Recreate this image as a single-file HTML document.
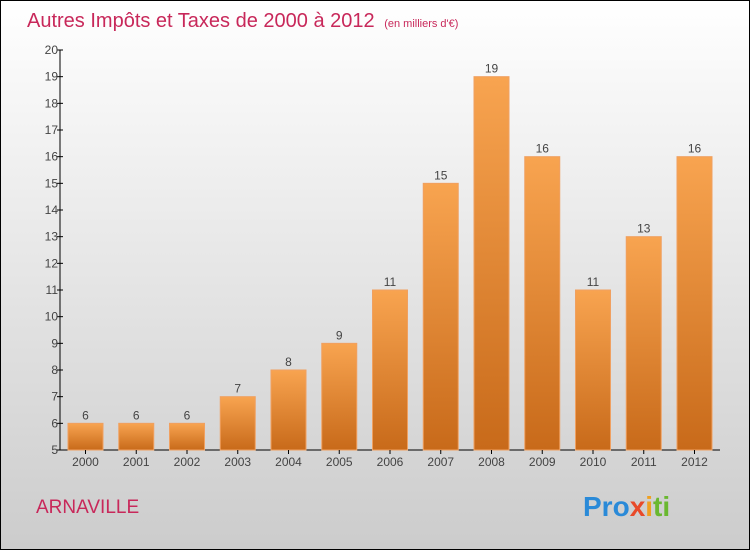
<!DOCTYPE html>
<html><head><meta charset="utf-8"><style>
body{margin:0;width:750px;height:550px;overflow:hidden;font-family:"Liberation Sans",sans-serif}
</style></head><body>
<svg width="750" height="550" xmlns="http://www.w3.org/2000/svg">
<defs>
<linearGradient id="bg" x1="0" y1="0" x2="0" y2="1"><stop offset="0" stop-color="#ffffff"/><stop offset="1" stop-color="#cccccc"/></linearGradient>
<linearGradient id="bar" x1="0" y1="0" x2="0" y2="1"><stop offset="0" stop-color="#f8a450"/><stop offset="1" stop-color="#c86a1a"/></linearGradient>
</defs>
<rect x="0.5" y="0.5" width="749" height="549" fill="url(#bg)" stroke="#000"/>
<text x="27" y="27" font-size="20" fill="#c8285a" font-weight="300">Autres Impôts et Taxes de 2000 à 2012 <tspan font-size="11" dx="4">(en milliers d'€)</tspan></text>
<g id="plot"></g>
<text x="36" y="513" font-size="19" fill="#c8285a">ARNAVILLE</text>
<text x="583" y="516" font-size="28" font-weight="bold"><tspan fill="#2a8ad8">Pro</tspan><tspan fill="#e84a2a">x</tspan><tspan fill="#f0a020">i</tspan><tspan fill="#6ab830">ti</tspan></text>
</svg>
<script>
const categories=["2000","2001","2002","2003","2004","2005","2006","2007","2008","2009","2010","2011","2012"];
const values=[6,6,6,7,8,9,11,15,19,16,11,13,16];
const yTicks=[5,6,7,8,9,10,11,12,13,14,15,16,17,18,19,20];
const NS="http://www.w3.org/2000/svg";
const g=document.getElementById('plot');
const yMin=5,yMax=20,y0=450,y1=50,axX=60,x0=85.5,step=50.75,bw=35;
const Y=v=>y0-(v-yMin)/(yMax-yMin)*(y0-y1);
const X=i=>x0+i*step;
function mk(t,a){const e=document.createElementNS(NS,t);for(const k in a)e.setAttribute(k,a[k]);g.appendChild(e);return e;}
let ax=mk('line',{x1:axX,y1:y1,x2:axX,y2:y0,stroke:'#000'});


let bx=mk('line',{x1:axX,y1:y0,x2:720,y2:y0,stroke:'#000'});


yTicks.forEach(v=>{
 let t=mk('line',{x1:axX-3,y1:Y(v),x2:axX+3,y2:Y(v),stroke:'#000'});
 
 
 let l=mk('text',{x:axX-2,y:Y(v)+4,'font-size':12,fill:'#444','text-anchor':'end'});
 l.textContent=v;
 
 
});
categories.forEach((c,i)=>{
 let b=mk('rect',{x:X(i)-bw/2,y:Y(values[i]),width:bw,height:y0-Y(values[i]),fill:'url(#bar)',stroke:'#f0a060','stroke-width':1});
 
 
 let v=mk('text',{x:X(i),y:Y(values[i])-4,'font-size':12,fill:'#444','text-anchor':'middle'});
 v.textContent=values[i];
 
 
 let t=mk('line',{x1:X(i),y1:y0,x2:X(i),y2:y0+4,stroke:'#000'});
 
 
 let l=mk('text',{x:X(i),y:y0+16,'font-size':12,fill:'#444','text-anchor':'middle'});
 l.textContent=c;
 
 
});
</script>
</body></html>
